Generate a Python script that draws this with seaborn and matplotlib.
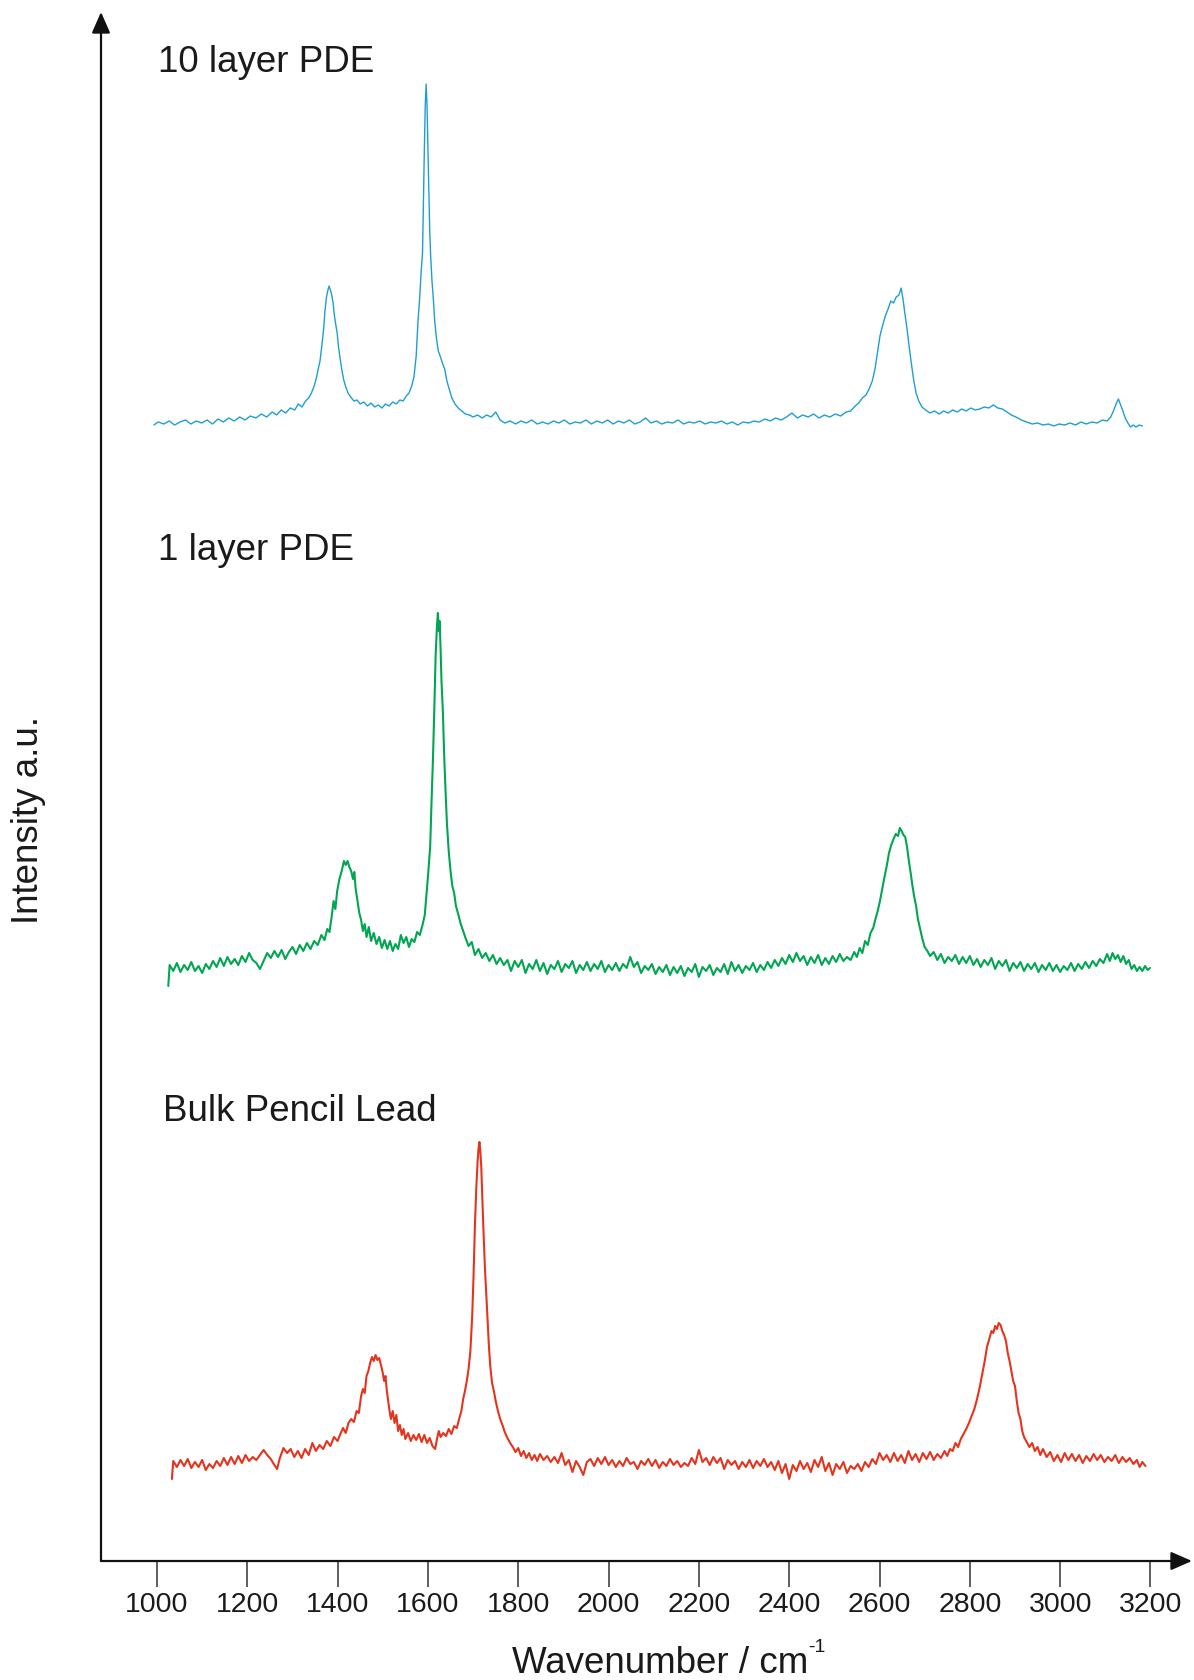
import matplotlib
matplotlib.use("Agg")
import matplotlib.pyplot as plt
import seaborn as sns
import pandas as pd

# ---------------- data ----------------
wn_10layer = [993, 1003, 1015, 1027, 1039, 1051, 1063, 1075, 1087, 1099, 1111, 1123, 1135, 1147, 1159, 1171, 1183, 1195, 1207, 1219,
              1231, 1243, 1255, 1265, 1275, 1285, 1295, 1305, 1313, 1321, 1329, 1336, 1342, 1348, 1353, 1357, 1361, 1365, 1369, 1372,
              1375, 1378, 1381, 1384, 1387, 1390, 1393, 1396, 1399, 1402, 1405, 1409, 1413, 1418, 1423, 1429, 1436, 1443, 1450, 1458,
              1466, 1474, 1482, 1490, 1498, 1506, 1514, 1522, 1530, 1538, 1545, 1552, 1558, 1564, 1569, 1574, 1578, 1582, 1585, 1588,
              1590, 1592, 1594, 1596, 1598, 1600, 1602, 1604, 1606, 1609, 1612, 1615, 1619, 1623, 1627, 1632, 1637, 1642, 1647, 1653,
              1660, 1667, 1675, 1683, 1692, 1700, 1710, 1720, 1730, 1740, 1750, 1760, 1770, 1782, 1794, 1806, 1818, 1830, 1842, 1854,
              1866, 1878, 1890, 1902, 1914, 1926, 1938, 1950, 1962, 1974, 1986, 1998, 2010, 2022, 2034, 2046, 2058, 2070, 2082, 2094,
              2106, 2118, 2130, 2142, 2154, 2166, 2178, 2190, 2202, 2214, 2226, 2238, 2250, 2262, 2274, 2286, 2298, 2310, 2322, 2334,
              2346, 2358, 2370, 2382, 2394, 2406, 2418, 2430, 2442, 2454, 2466, 2478, 2490, 2502, 2514, 2526, 2536, 2546, 2554, 2562,
              2570, 2577, 2584, 2590, 2596, 2601, 2607, 2613, 2619, 2625, 2631, 2637, 2643, 2648, 2652, 2656, 2661, 2666, 2671, 2676,
              2681, 2687, 2694, 2702, 2712, 2722, 2732, 2742, 2752, 2762, 2772, 2782, 2792, 2802, 2812, 2822, 2832, 2842, 2852, 2862,
              2872, 2882, 2892, 2902, 2914, 2926, 2938, 2950, 2962, 2974, 2986, 2998, 3010, 3022, 3034, 3046, 3058, 3070, 3082, 3094,
              3104, 3112, 3118, 3124, 3129, 3134, 3139, 3144, 3150, 3156, 3162, 3168, 3175, 3182]
int_10layer = [1136, 1139, 1137, 1140, 1136, 1139, 1141, 1137, 1140, 1138, 1141, 1137, 1142, 1139, 1143, 1140, 1144, 1141, 1145, 1143,
               1147, 1144, 1149, 1146, 1151, 1148, 1153, 1151, 1157, 1154, 1160, 1163, 1168, 1175, 1183, 1192, 1200, 1215, 1232, 1250,
               1263, 1270, 1275, 1271, 1266, 1258, 1245, 1236, 1228, 1214, 1204, 1192, 1182, 1174, 1168, 1164, 1160, 1161, 1157, 1159,
               1155, 1158, 1154, 1156, 1153, 1157, 1155, 1159, 1157, 1161, 1160, 1165, 1168, 1175, 1184, 1205, 1240, 1265, 1290, 1308,
               1360, 1410, 1455, 1477, 1455, 1410, 1370, 1330, 1305, 1280, 1262, 1240, 1222, 1210, 1205, 1198, 1192, 1180, 1172, 1163,
               1157, 1153, 1150, 1147, 1146, 1144, 1146, 1143, 1146, 1144, 1149, 1141, 1138, 1140, 1137, 1140, 1138, 1141, 1137, 1139,
               1137, 1140, 1138, 1141, 1137, 1139, 1138, 1141, 1137, 1140, 1138, 1141, 1137, 1140, 1138, 1141, 1137, 1139, 1143, 1138,
               1140, 1137, 1139, 1138, 1141, 1137, 1139, 1138, 1140, 1137, 1139, 1138, 1140, 1137, 1139, 1136, 1139, 1138, 1140, 1139,
               1142, 1140, 1143, 1141, 1144, 1148, 1143, 1146, 1144, 1147, 1143, 1146, 1144, 1147, 1145, 1149, 1150, 1155, 1158, 1163,
               1166, 1172, 1180, 1192, 1210, 1225, 1236, 1245, 1252, 1260, 1258, 1264, 1266, 1273, 1262, 1248, 1232, 1213, 1196, 1180,
               1168, 1160, 1154, 1151, 1148, 1150, 1147, 1150, 1148, 1151, 1149, 1152, 1150, 1153, 1151, 1152, 1154, 1153, 1156, 1153,
               1152, 1149, 1146, 1144, 1141, 1139, 1137, 1138, 1136, 1137, 1135, 1137, 1136, 1138, 1136, 1139, 1137, 1139, 1138, 1141,
               1140, 1144, 1150, 1157, 1162, 1156, 1150, 1143, 1138, 1134, 1136, 1134, 1136, 1135]

wn_1layer = [1025, 1028, 1036, 1044, 1052, 1060, 1068, 1076, 1084, 1092, 1100, 1108, 1116, 1124, 1132, 1140, 1148, 1156, 1164, 1172,
             1180, 1188, 1196, 1204, 1212, 1220, 1228, 1236, 1244, 1252, 1260, 1268, 1276, 1284, 1292, 1300, 1308, 1316, 1324, 1332,
             1340, 1348, 1356, 1364, 1371, 1377, 1382, 1387, 1391, 1395, 1399, 1404, 1409, 1414, 1418, 1422, 1426, 1430, 1434, 1437,
             1440, 1444, 1448, 1452, 1456, 1460, 1464, 1469, 1474, 1480, 1486, 1492, 1498, 1504, 1510, 1516, 1522, 1528, 1534, 1540,
             1546, 1552, 1558, 1564, 1570, 1576, 1582, 1588, 1593, 1597, 1601, 1605, 1608, 1611, 1614, 1617, 1620, 1622, 1624, 1626,
             1628, 1630, 1633, 1636, 1639, 1642, 1646, 1650, 1654, 1658, 1662, 1667, 1672, 1678, 1684, 1690, 1697, 1704, 1712, 1720,
             1728, 1736, 1744, 1752, 1760, 1768, 1776, 1784, 1792, 1800, 1808, 1816, 1824, 1832, 1840, 1848, 1856, 1864, 1872, 1880,
             1888, 1896, 1904, 1912, 1920, 1928, 1936, 1944, 1952, 1960, 1968, 1976, 1984, 1992, 2000, 2008, 2016, 2024, 2032, 2040,
             2048, 2056, 2064, 2072, 2080, 2088, 2096, 2104, 2112, 2120, 2128, 2136, 2144, 2152, 2160, 2168, 2176, 2184, 2192, 2200,
             2208, 2216, 2224, 2232, 2240, 2248, 2256, 2264, 2272, 2280, 2288, 2296, 2304, 2312, 2320, 2328, 2336, 2344, 2352, 2360,
             2368, 2376, 2384, 2392, 2400, 2408, 2416, 2424, 2432, 2440, 2448, 2456, 2464, 2472, 2480, 2488, 2496, 2504, 2512, 2520,
             2528, 2536, 2544, 2550, 2556, 2562, 2568, 2574, 2580, 2586, 2591, 2596, 2601, 2606, 2611, 2616, 2621, 2626, 2631, 2636,
             2641, 2645, 2649, 2653, 2657, 2661, 2665, 2669, 2673, 2677, 2681, 2685, 2690, 2695, 2700, 2706, 2712, 2720, 2728, 2736,
             2744, 2752, 2760, 2768, 2776, 2784, 2792, 2800, 2808, 2816, 2824, 2832, 2840, 2848, 2856, 2864, 2872, 2880, 2888, 2896,
             2904, 2912, 2920, 2928, 2936, 2944, 2952, 2960, 2968, 2976, 2984, 2992, 3000, 3008, 3016, 3024, 3032, 3040, 3048, 3056,
             3064, 3072, 3080, 3088, 3096, 3104, 3110, 3116, 3122, 3128, 3134, 3140, 3146, 3152, 3158, 3164, 3170, 3176, 3182, 3188,
             3194, 3199]
int_1layer = [575, 596, 590, 598, 589, 596, 591, 599, 590, 595, 588, 597, 592, 600, 594, 603, 595, 604, 597, 602,
              596, 605, 599, 608, 601, 598, 592, 600, 608, 603, 610, 604, 611, 602, 609, 614, 607, 616, 610, 618,
              612, 620, 616, 626, 621, 632, 629, 645, 660, 652, 670, 682, 690, 700, 696, 700, 694, 690, 682, 689,
              672, 660, 648, 641, 630, 637, 624, 634, 620, 628, 617, 624, 613, 621, 612, 620, 610, 617, 612, 626,
              618, 624, 614, 622, 619, 629, 626, 636, 646, 668, 690, 715, 760, 800, 850, 905, 935, 948, 930, 940,
              912, 880, 850, 805, 770, 738, 710, 690, 675, 668, 655, 647, 638, 630, 622, 615, 619, 606, 612, 603,
              608, 600, 606, 597, 603, 596, 601, 590, 600, 594, 601, 588, 597, 592, 601, 590, 598, 587, 596, 592,
              600, 589, 597, 593, 600, 588, 596, 591, 599, 590, 597, 592, 600, 589, 596, 591, 598, 590, 597, 593,
              604, 594, 599, 588, 595, 591, 597, 587, 594, 589, 596, 586, 594, 588, 595, 585, 593, 589, 597, 584,
              594, 590, 596, 586, 593, 589, 597, 587, 599, 590, 596, 588, 595, 591, 598, 589, 596, 591, 599, 593,
              601, 595, 603, 597, 606, 599, 608, 600, 605, 596, 604, 598, 606, 596, 603, 597, 605, 599, 607, 600,
              604, 601, 609, 604, 613, 608, 620, 616, 628, 633, 642, 650, 660, 672, 684, 695, 708, 716, 722, 727,
              725, 733, 730, 726, 724, 714, 700, 688, 675, 664, 655, 642, 632, 622, 614, 610, 605, 609, 601, 607,
              598, 604, 600, 606, 597, 604, 598, 605, 596, 602, 594, 601, 596, 603, 592, 600, 595, 601, 590, 598,
              593, 599, 590, 597, 592, 598, 589, 596, 591, 598, 590, 596, 589, 595, 591, 598, 590, 597, 592, 599,
              593, 600, 595, 602, 598, 607, 600, 608, 602, 606, 599, 605, 597, 601, 592, 596, 590, 594, 590, 595,
              591, 593]

wn_bulk = [1033, 1036, 1044, 1052, 1060, 1068, 1076, 1084, 1092, 1100, 1108, 1116, 1124, 1132, 1140, 1148, 1156, 1164, 1172, 1180,
           1188, 1196, 1204, 1212, 1220, 1228, 1236, 1244, 1252, 1260, 1266, 1272, 1280, 1288, 1296, 1304, 1312, 1320, 1328, 1336,
           1344, 1352, 1360, 1368, 1376, 1384, 1392, 1400, 1406, 1412, 1418, 1424, 1430, 1436, 1442, 1447, 1452, 1456, 1460, 1464,
           1468, 1472, 1476, 1480, 1484, 1488, 1492, 1496, 1500, 1503, 1506, 1509, 1512, 1515, 1518, 1522, 1526, 1530, 1534, 1538,
           1542, 1546, 1550, 1556, 1562, 1568, 1574, 1580, 1586, 1592, 1598, 1604, 1610, 1616, 1620, 1624, 1628, 1634, 1640, 1646,
           1652, 1658, 1664, 1669, 1674, 1678, 1682, 1686, 1690, 1694, 1698, 1701, 1704, 1707, 1710, 1712, 1714, 1716, 1718, 1720,
           1723, 1726, 1729, 1732, 1735, 1738, 1742, 1746, 1750, 1755, 1760, 1765, 1770, 1776, 1782, 1788, 1794, 1800, 1806, 1812,
           1818, 1824, 1830, 1836, 1842, 1848, 1856, 1864, 1872, 1880, 1888, 1896, 1904, 1912, 1920, 1928, 1936, 1944, 1952, 1960,
           1968, 1976, 1984, 1992, 2000, 2008, 2016, 2024, 2032, 2040, 2048, 2056, 2064, 2072, 2080, 2088, 2096, 2104, 2112, 2120,
           2128, 2136, 2144, 2152, 2160, 2168, 2176, 2184, 2192, 2200, 2208, 2216, 2224, 2232, 2240, 2248, 2256, 2264, 2272, 2280,
           2288, 2296, 2304, 2312, 2320, 2328, 2336, 2344, 2352, 2360, 2368, 2376, 2384, 2392, 2400, 2408, 2416, 2424, 2432, 2440,
           2448, 2456, 2464, 2472, 2480, 2488, 2496, 2504, 2512, 2520, 2528, 2536, 2544, 2552, 2560, 2568, 2576, 2584, 2592, 2600,
           2608, 2616, 2624, 2632, 2640, 2648, 2656, 2664, 2672, 2680, 2688, 2696, 2704, 2712, 2720, 2728, 2736, 2744, 2750, 2756,
           2762, 2768, 2774, 2780, 2786, 2792, 2798, 2804, 2810, 2816, 2822, 2828, 2833, 2838, 2843, 2848, 2852, 2856, 2860, 2864,
           2868, 2872, 2876, 2880, 2884, 2888, 2892, 2896, 2900, 2904, 2908, 2912, 2916, 2920, 2926, 2932, 2938, 2944, 2950, 2956,
           2962, 2970, 2978, 2986, 2994, 3002, 3010, 3018, 3026, 3034, 3042, 3050, 3058, 3066, 3074, 3082, 3090, 3098, 3106, 3114,
           3122, 3130, 3138, 3146, 3154, 3162, 3170, 3176, 3182, 3189]
int_bulk = [82, 100, 94, 101, 95, 102, 93, 99, 94, 101, 91, 97, 93, 100, 95, 103, 96, 104, 97, 105,
            98, 106, 100, 104, 101, 106, 111, 106, 102, 96, 92, 103, 113, 108, 112, 104, 110, 103, 112, 106,
            118, 110, 116, 112, 120, 115, 124, 120, 127, 133, 128, 138, 142, 139, 150, 148, 165, 172, 168, 185,
            190, 198, 204, 200, 206, 201, 203, 196, 188, 180, 185, 170, 160, 150, 142, 150, 138, 146, 130, 136,
            126, 132, 122, 128, 120, 126, 121, 127, 119, 126, 118, 123, 115, 112, 122, 130, 124, 128, 125, 132,
            127, 135, 133, 142, 150, 162, 170, 180, 192, 210, 245, 285, 335, 372, 400, 412, 419, 410, 395, 368,
            330, 295, 268, 240, 215, 195, 178, 170, 160, 150, 142, 136, 129, 123, 118, 114, 109, 113, 105, 110,
            103, 108, 101, 106, 100, 107, 101, 105, 99, 104, 98, 108, 96, 101, 89, 100, 94, 86, 99, 102,
            95, 103, 97, 104, 96, 101, 94, 100, 95, 103, 97, 99, 92, 100, 96, 102, 95, 101, 93, 99,
            95, 102, 96, 100, 94, 98, 95, 103, 97, 111, 99, 103, 96, 104, 98, 103, 92, 101, 96, 100,
            92, 99, 94, 101, 93, 100, 95, 102, 94, 99, 91, 100, 88, 97, 82, 96, 90, 100, 92, 98,
            89, 101, 94, 104, 90, 98, 86, 97, 92, 99, 88, 95, 92, 97, 90, 99, 94, 102, 97, 108,
            101, 106, 99, 108, 100, 106, 98, 110, 101, 107, 99, 108, 102, 109, 101, 107, 103, 110, 105, 112,
            110, 118, 114, 122, 127, 132, 138, 145, 152, 162, 174, 188, 200, 214, 222, 230, 228, 235, 232, 238,
            236, 230, 226, 220, 208, 200, 190, 180, 175, 160, 148, 142, 130, 124, 119, 114, 118, 110, 114, 106,
            112, 104, 109, 100, 106, 99, 108, 101, 107, 100, 106, 98, 105, 100, 107, 101, 106, 99, 104, 100,
            106, 98, 104, 99, 103, 97, 101, 94, 99, 95]

series_names = ["10 layer PDE", "1 layer PDE", "Bulk Pencil Lead"]
series_colors = ["#1e9fd2", "#00a651", "#e5341e"]
x_ticks = [1000, 1200, 1400, 1600, 1800, 2000, 2200, 2400, 2600, 2800, 3000, 3200]

# ---------------- figure ----------------
sns.set_style("white")
plt.rcParams["font.family"] = ["Liberation Sans", "DejaVu Sans"]

W, H = 1194, 1681
fig = plt.figure(figsize=(W / 100, H / 100), dpi=100, facecolor="white")
ax = fig.add_axes([101 / W, 1 - 1562 / H, 1091 / W, 1549 / H])
ax.set_facecolor("white")

frames = [
    pd.DataFrame({"wn": wn_10layer, "I": int_10layer, "s": series_names[0]}),
    pd.DataFrame({"wn": wn_1layer, "I": int_1layer, "s": series_names[1]}),
    pd.DataFrame({"wn": wn_bulk, "I": int_bulk, "s": series_names[2]}),
]
widths = [1.0, 1.5, 1.5]
for df, c, lw in zip(frames, series_colors, widths):
    sns.lineplot(data=df, x="wn", y="I", ax=ax, color=c, lw=lw,
                 estimator=None, sort=False, legend=False)

ax.set_xlim(876, 3292)
ax.set_ylim(0, 1549)
for sp in ax.spines.values():
    sp.set_visible(False)

ax.set_xticks(x_ticks)
ax.set_xticklabels([str(t) for t in x_ticks])
ax.set_yticks([])
ax.tick_params(axis="x", direction="out", length=18.7, width=1.1, color="#333333",
               labelsize=20.5, labelcolor="#1a1a1a", pad=3, bottom=True)
ax.set_xlabel("")
ax.set_ylabel("")

arrow_kw = dict(arrowstyle="-|>,head_length=0.8,head_width=0.35", mutation_scale=16,
                lw=1.6, color="#111111", shrinkA=0, shrinkB=0)
ax.annotate("", xy=(1, 0), xytext=(0, 0), xycoords="axes fraction",
            textcoords="axes fraction", arrowprops=arrow_kw, annotation_clip=False)
ax.annotate("", xy=(0, 1), xytext=(0, 0), xycoords="axes fraction",
            textcoords="axes fraction", arrowprops=arrow_kw, annotation_clip=False)

# series labels
ax.text(1002, 1490, series_names[0], fontsize=26.5, color="#1a1a1a", va="baseline", ha="left")
ax.text(1002, 1002, series_names[1], fontsize=26.5, color="#1a1a1a", va="baseline", ha="left")
ax.text(1013, 441, series_names[2], fontsize=26.5, color="#1a1a1a", va="baseline", ha="left")

# axis titles
fig.text(512 / W, 8 / H, "Wavenumber / cm", fontsize=26.5, color="#1a1a1a",
         ha="left", va="baseline")
fig.text(808 / W, 29 / H, "-1", fontsize=14, color="#1a1a1a", ha="left", va="baseline")
fig.text(29 / W, 1 - 820 / H, "Intensity a.u.", fontsize=26.5, color="#1a1a1a",
         ha="center", va="center", rotation=90)

fig.savefig("out.png", dpi=100, facecolor="white")
